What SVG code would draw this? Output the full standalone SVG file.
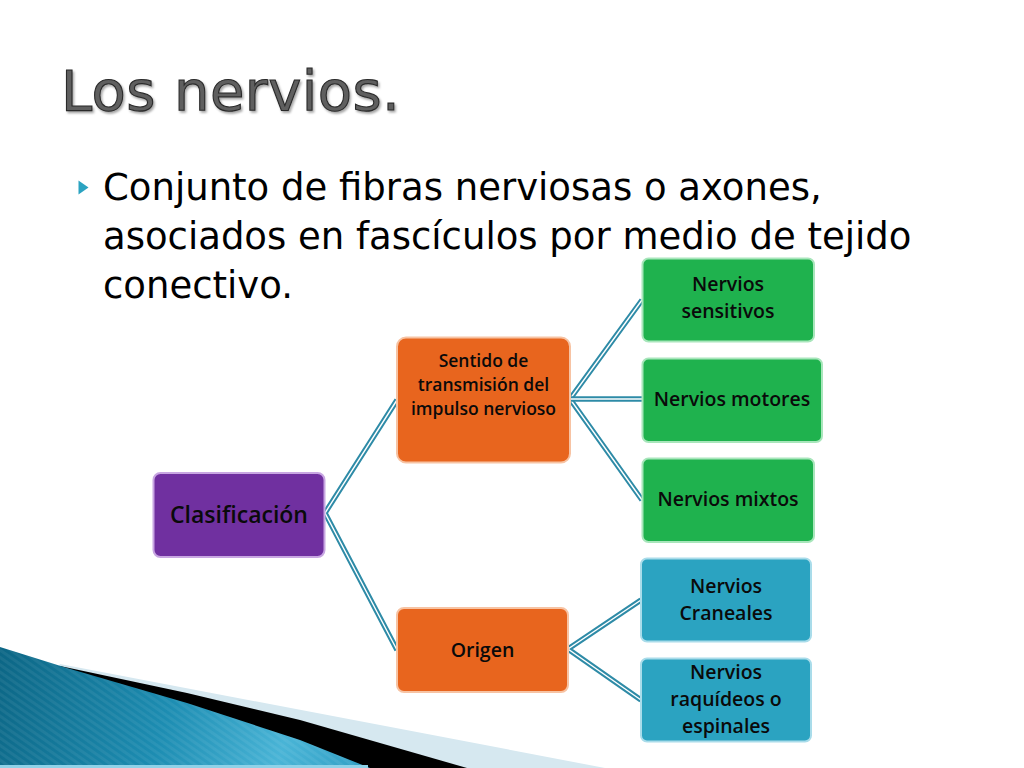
<svg xmlns="http://www.w3.org/2000/svg" width="1024" height="768" viewBox="0 0 1024 768">
  <defs>
    <linearGradient id="blueGrad" x1="0" y1="650" x2="380" y2="768" gradientUnits="userSpaceOnUse">
      <stop offset="0" stop-color="#0c6685"/>
      <stop offset="0.45" stop-color="#1d8db2"/>
      <stop offset="0.75" stop-color="#49b4d6"/>
      <stop offset="1" stop-color="#2d9cc2"/>
    </linearGradient>
    <pattern id="stripes" width="6" height="6" patternUnits="userSpaceOnUse" patternTransform="rotate(-55)">
      <rect width="3" height="6" fill="#ffffff" opacity="0.06"/>
    </pattern>
    <filter id="tshadow" x="-5%" y="-5%" width="110%" height="120%">
      <feDropShadow dx="1.5" dy="2" stdDeviation="1.2" flood-color="#000" flood-opacity="0.35"/>
    </filter>
  </defs>
  <style>
    .title { font-family: "DejaVu Sans", Verdana, sans-serif; font-size: 56px; fill: #5e5e5e; stroke: #2a2a2a; stroke-width: 1.1px; letter-spacing: 0.4px; }
    .body { font-family: "DejaVu Sans", Verdana, sans-serif; font-size: 37px; fill: #000; }
    .node rect { stroke-width: 2; }
    .lbl { font-family: "Open Sans", "DejaVu Sans", sans-serif; font-weight: 600; font-size: 19.5px; fill: #0a0a0a; text-anchor: middle; }
    .purple { fill: #7030a0; stroke: #c8a6e2; }
    .orange { fill: #e8651e; stroke: #f7c3a3; }
    .green { fill: #1fb24e; stroke: #a8e6bb; }
    .teal { fill: #2ba3c1; stroke: #a9dcea; }
    .c-out { fill: none; stroke: #2e8ba7; stroke-width: 5.4; stroke-linejoin: miter; stroke-miterlimit: 10; }
    .c-in { fill: none; stroke: #ffffff; stroke-width: 1.4; stroke-linejoin: miter; stroke-miterlimit: 10; }
  </style>

  <rect width="1024" height="768" fill="#ffffff"/>

  <!-- bottom decoration -->
  <g id="decoration">
    <path d="M60 664 L605 768 L0 768 Z" fill="#d6e8f0"/>
    <path d="M60 666 L187 693 L300 720 L467 768 L0 768 Z" fill="#000000"/>
    <path d="M0 647 L67 668 L187 703 L300 740 L370 768 L0 768 Z" fill="url(#blueGrad)"/>
    <path d="M0 647 L67 668 L187 703 L300 740 L370 768 L0 768 Z" fill="url(#stripes)"/>
    <rect x="0" y="765" width="368" height="3" fill="#8fd2e8"/>
  </g>

  <!-- title and text -->
  <text class="title" x="61" y="109.5" filter="url(#tshadow)">Los nervios.</text>
  <polygon points="78.5,180.5 88.5,187.5 78.5,194.5" fill="#2ba3c1"/>
  <text class="body" x="103" y="200">Conjunto de fibras nerviosas o axones,</text>
  <text class="body" x="103" y="249">asociados en fascículos por medio de tejido</text>
  <text class="body" x="103" y="298">conectivo.</text>

  <!-- connectors -->
  <g id="connectors">
    <path class="c-out" d="M397 400 L325 513 L397 650"/>
    <path class="c-in" d="M397 400 L325 513 L397 650"/>
    <path class="c-out" d="M642 300 L570 399 L642 500"/>
    <path class="c-in" d="M642 300 L570 399 L642 500"/>
    <path class="c-out" d="M570 399 L642 399"/>
    <path class="c-in" d="M570 399 L642 399"/>
    <path class="c-out" d="M641 600 L568 649 L641 700"/>
    <path class="c-in" d="M641 600 L568 649 L641 700"/>
  </g>

  <!-- nodes -->
  <g id="n-clasificacion" class="node">
    <rect class="purple" x="153.5" y="473" width="171" height="84" rx="7"/>
    <text class="lbl" x="239" y="523" style="font-size:23px">Clasificación</text>
  </g>
  <g id="n-sentido" class="node">
    <rect class="orange" x="397" y="337.5" width="173" height="125" rx="9"/>
    <text class="lbl" x="483.5" y="367" style="font-size:17.5px">Sentido de</text>
    <text class="lbl" x="483.5" y="391" style="font-size:17.5px">transmisión del</text>
    <text class="lbl" x="483.5" y="415" style="font-size:17.5px">impulso nervioso</text>
  </g>
  <g id="n-origen" class="node">
    <rect class="orange" x="397" y="608" width="171" height="84" rx="7"/>
    <text class="lbl" x="482.5" y="657">Origen</text>
  </g>
  <g id="n-sensitivos" class="node">
    <rect class="green" x="642.5" y="258.5" width="171.5" height="83" rx="6"/>
    <text class="lbl" x="728" y="291">Nervios</text>
    <text class="lbl" x="728" y="318">sensitivos</text>
  </g>
  <g id="n-motores" class="node">
    <rect class="green" x="642.5" y="358.5" width="179.5" height="83.5" rx="6"/>
    <text class="lbl" x="732" y="406">Nervios motores</text>
  </g>
  <g id="n-mixtos" class="node">
    <rect class="green" x="642.5" y="458.5" width="171.5" height="83.5" rx="6"/>
    <text class="lbl" x="728" y="506">Nervios mixtos</text>
  </g>
  <g id="n-craneales" class="node">
    <rect class="teal" x="641" y="558.5" width="170" height="83" rx="6"/>
    <text class="lbl" x="726" y="593">Nervios</text>
    <text class="lbl" x="726" y="620">Craneales</text>
  </g>
  <g id="n-raquideos" class="node">
    <rect class="teal" x="641" y="658.5" width="170" height="83" rx="6"/>
    <text class="lbl" x="726" y="679">Nervios</text>
    <text class="lbl" x="726" y="706">raquídeos o</text>
    <text class="lbl" x="726" y="733">espinales</text>
  </g>
</svg>
